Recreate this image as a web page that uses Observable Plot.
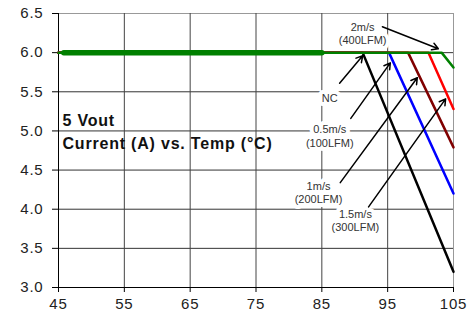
<!DOCTYPE html>
<html><head><meta charset="utf-8">
<script src="https://cdn.jsdelivr.net/npm/d3@7"></script>
<script src="https://cdn.jsdelivr.net/npm/@observablehq/plot@0.6"></script>
<style>body{margin:0;background:#fff}</style>
</head><body><div id="chart"></div>
<script>
// axis ticks
const xTicks = [45, 55, 65, 75, 85, 95, 105];
const yTicks = [3.0, 3.5, 4.0, 4.5, 5.0, 5.5, 6.0, 6.5];

// derating curves (temperature °C, current A)
const seriesNames = ["NC", "0.5m/s (100LFM)", "1m/s (200LFM)", "1.5m/s (300LFM)", "2m/s (400LFM)"];
const seriesColors = ["#000000", "#0000ff", "#800000", "#ff0000", "#008000"];
const tempNC  = [45, 91.2, 105];  const currNC  = [6.0, 6.0, 3.2];
const temp05  = [45, 95.2, 105];  const curr05  = [6.0, 6.0, 4.2];
const temp10  = [45, 98.1, 105];  const curr10  = [6.0, 6.0, 4.79];
const temp15  = [45, 101.2, 105]; const curr15  = [6.0, 6.0, 5.28];
const temp20  = [45, 103.2, 105]; const curr20  = [6.0, 6.0, 5.81];
const thickTemp = [45.8, 85];     const thickCurr = [6.0, 6.0];

// annotation labels
const labelText = ["2m/s\n(400LFM)", "NC", "0.5m/s\n(100LFM)", "1m/s\n(200LFM)", "1.5m/s\n(300LFM)"];
const labelX = [91.2, 86.2, 86.2, 84.5, 90.1];
const labelY = [6.25, 5.43, 4.94, 4.22, 3.86];
// annotation arrows
const arrowX1 = [94.2, 87.7, 89.4, 87.8, 92.1];
const arrowY1 = [6.33, 5.61, 5.16, 4.34, 4.03];
const arrowX2 = [102.7, 91.2, 95.4, 99.5, 103.8];
const arrowY2 = [6.05, 5.96, 5.87, 5.68, 5.41];

// titles
const titleLines = ["5 Vout", "Current (A) vs. Temp (°C)"];
const titleX = [45.6, 45.6];
const titleY = [5.13, 4.83];

const temps = [tempNC, temp05, temp10, temp15, temp20];
const currs = [currNC, curr05, curr10, curr15, curr20];
const rows = seriesNames.flatMap((s, i) => temps[i].map((t, j) => ({series: s, temp: t, curr: currs[i][j]})));
const thickRows = thickTemp.map((t, j) => ({temp: t, curr: thickCurr[j]}));
const labels = labelText.map((t, i) => ({text: t, x: labelX[i], y: labelY[i]}));
const arrows = arrowX1.map((x, i) => ({x1: x, y1: arrowY1[i], x2: arrowX2[i], y2: arrowY2[i]}));
const titles = titleLines.map((t, i) => ({text: t, x: titleX[i], y: titleY[i]}));

const inner = xTicks.slice(1, -1);
const chart = Plot.plot({
  width: 475, height: 315,
  marginLeft: 58, marginRight: 22, marginTop: 13, marginBottom: 28,
  x: {domain: [45, 105]},
  y: {domain: [3, 6.5]},
  color: {domain: seriesNames, range: seriesColors},
  style: {fontFamily: "'Liberation Sans', Arial, sans-serif", background: "#fff", color: "#222", overflow: "visible"},
  marks: [
    Plot.ruleY(yTicks.slice(1, -1), {stroke: "#333", strokeWidth: 1}),
    Plot.ruleY([yTicks[yTicks.length - 1]], {stroke: "#999", strokeWidth: 1}),
    Plot.ruleX(inner, {y1: 3, y2: 6.5, stroke: "#444", strokeWidth: 1}),
    Plot.ruleX([xTicks[xTicks.length - 1]], {y1: 3, y2: 6.5, stroke: "#999", strokeWidth: 1}),
    Plot.ruleX([xTicks[0]], {y1: 3, y2: 6.5, stroke: "#000", strokeWidth: 1}),
    Plot.ruleY([yTicks[0]], {stroke: "#000", strokeWidth: 1}),
    Plot.axisY(yTicks, {tickSize: 6, tickPadding: 9, tickFormat: d => d.toFixed(1), fontSize: 15, stroke: "#000", color: "#222"}),
    Plot.axisX(xTicks, {tickSize: 5, tickPadding: 6, fontSize: 15, stroke: "#000", color: "#222"}),
    Plot.line(rows, {x: "temp", y: "curr", z: "series", stroke: "series", strokeWidth: 2.5}),
    Plot.line(thickRows, {x: "temp", y: "curr", stroke: "#008000", strokeWidth: 5.5}),
    Plot.text(titles, {x: "x", y: "y", text: "text", textAnchor: "start", fontSize: 16, fontWeight: "bold", fill: "#111"}),
    Plot.text(labels, {x: "x", y: "y", text: "text", fontSize: 11, lineHeight: 1.25, fill: "#333", stroke: "#fff", strokeWidth: 8}),
    Plot.arrow(arrows, {x1: "x1", y1: "y1", x2: "x2", y2: "y2", stroke: "#000", strokeWidth: 1.5, headLength: 7})
  ]
});
document.getElementById("chart").appendChild(chart);
d3.select(chart).selectAll('g[aria-label="y-axis tick label"], g[aria-label="x-axis tick label"]').style("letter-spacing", "0.8px");
d3.select(chart).selectAll('g[aria-label="text"]').filter((d, i) => i === 0).style("letter-spacing", "0.8px");
</script>
</body></html>
